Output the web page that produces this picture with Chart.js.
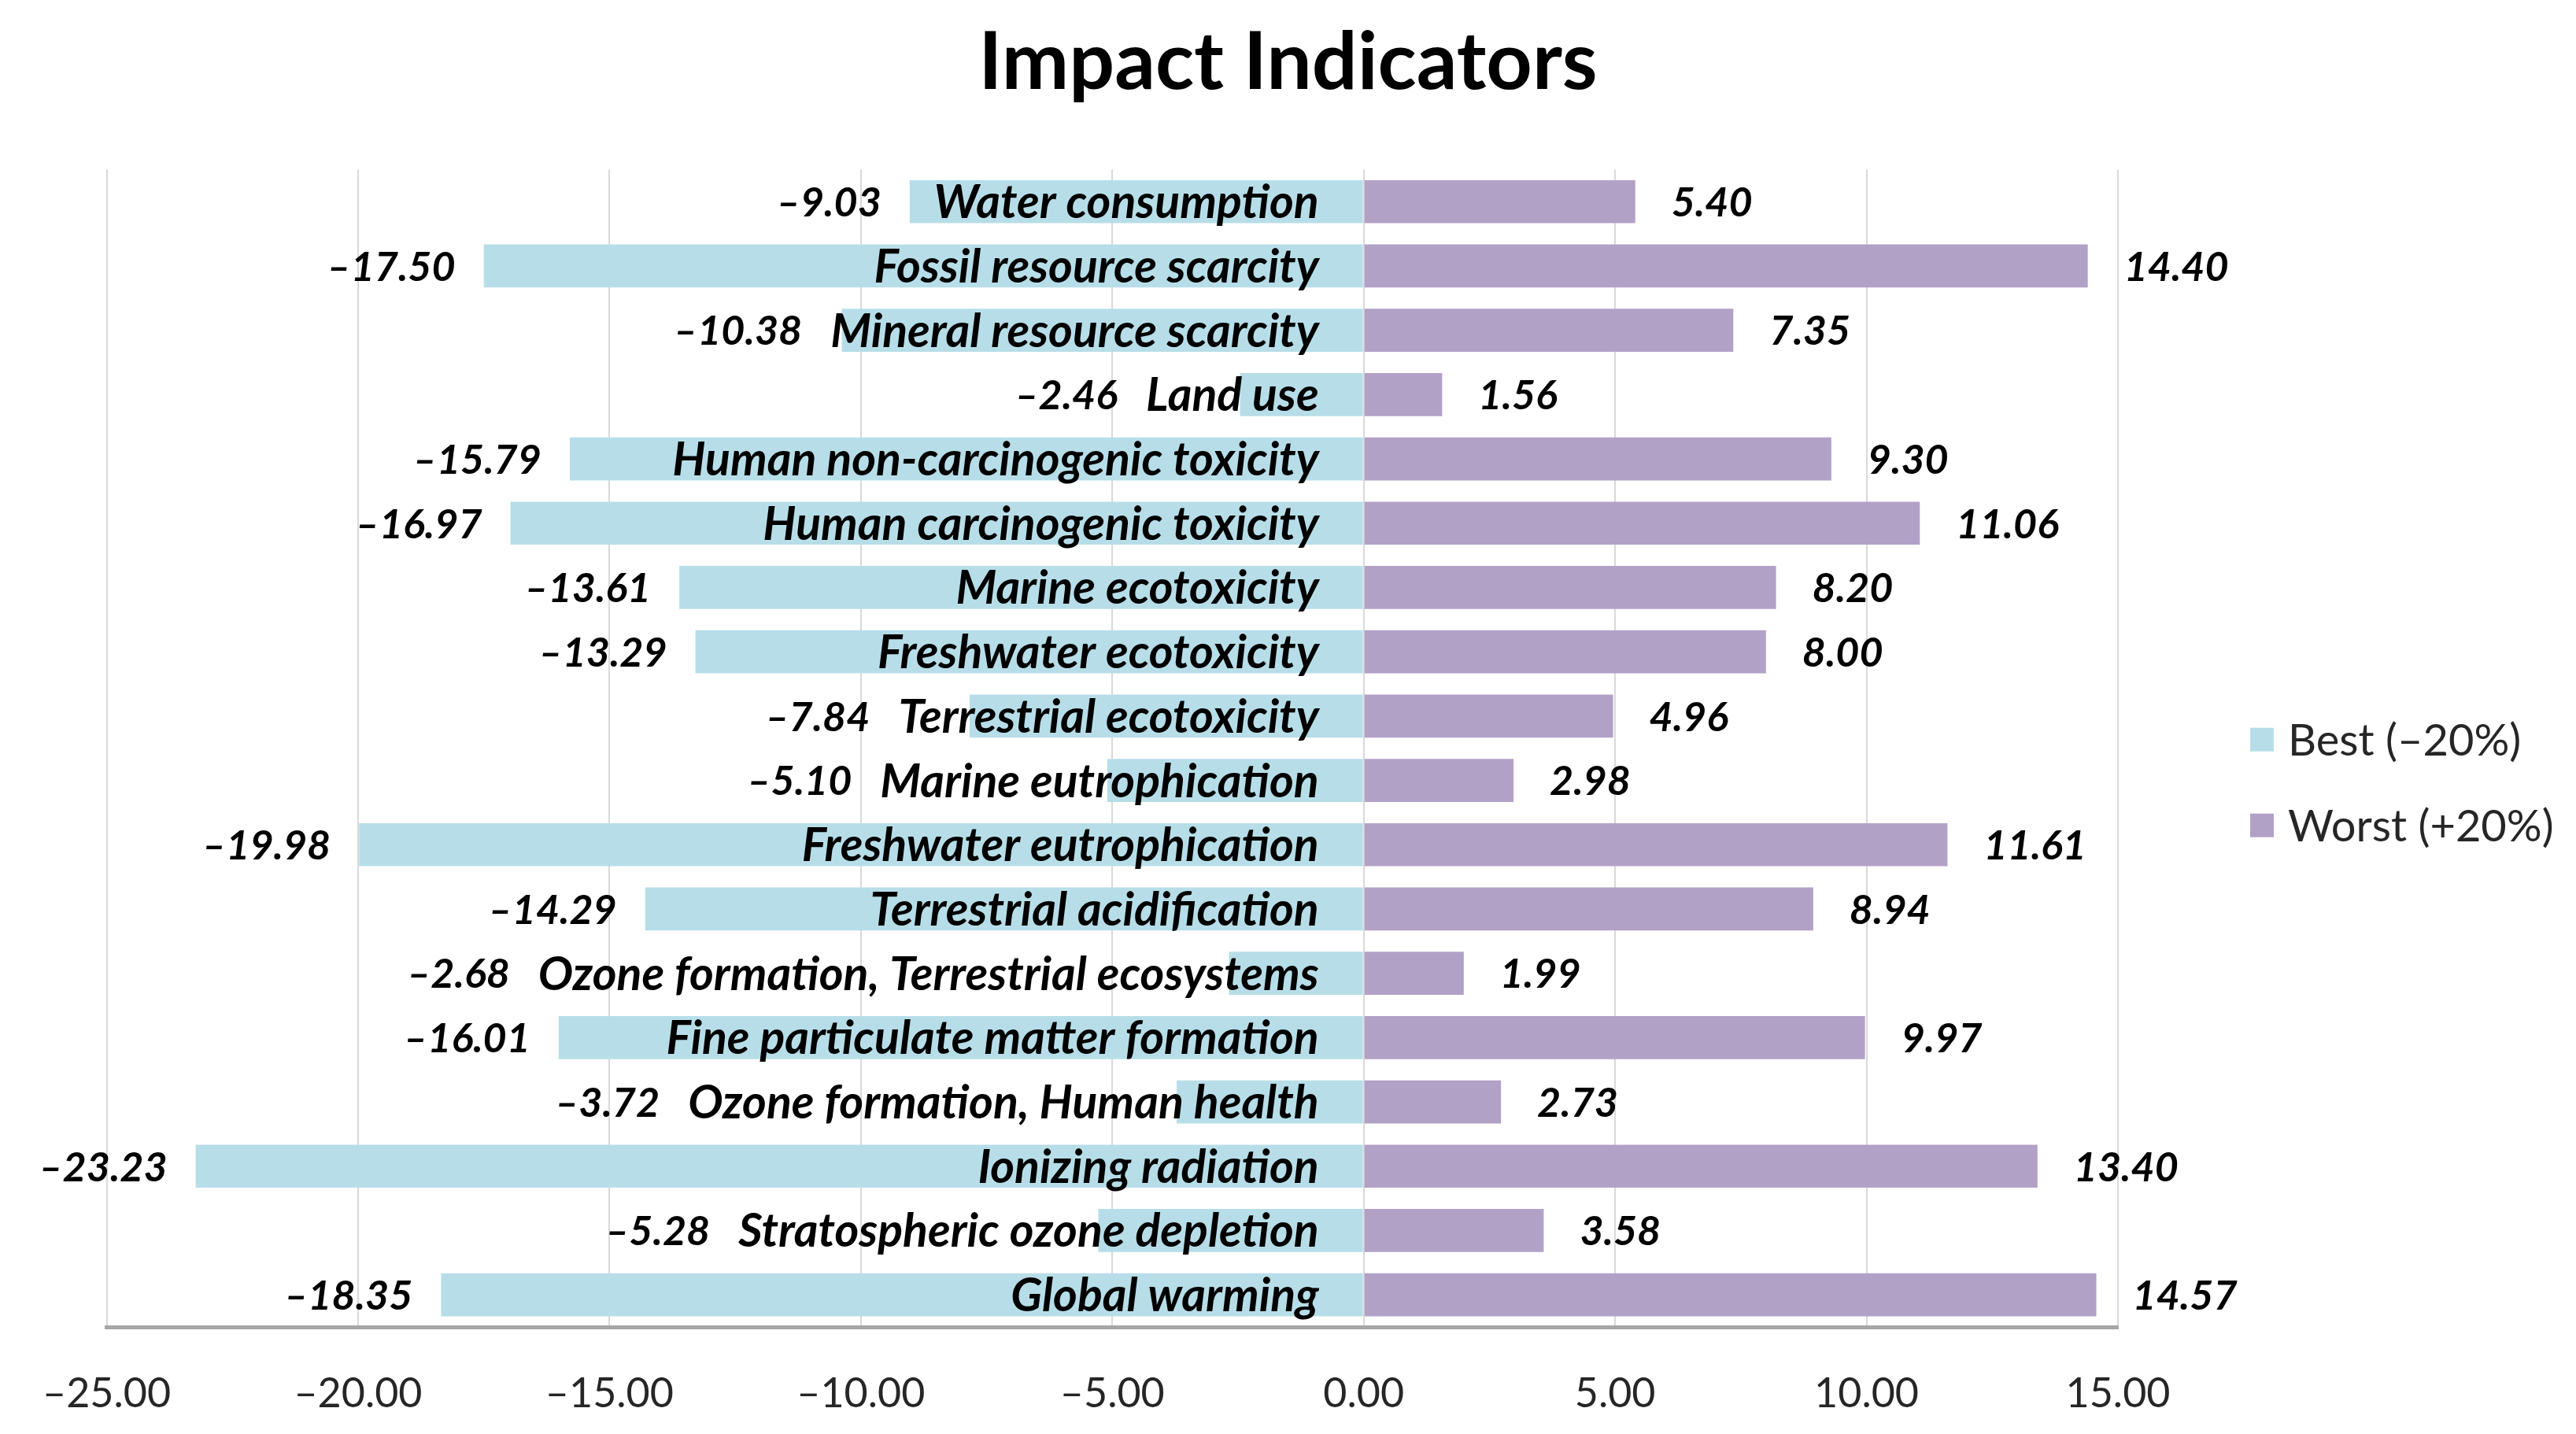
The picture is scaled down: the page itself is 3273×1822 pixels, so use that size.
<!DOCTYPE html>
<html>
<head>
<meta charset="utf-8">
<title>Impact Indicators</title>
<script src="https://cdn.jsdelivr.net/npm/chart.js@4.4.1/dist/chart.umd.min.js"></script>
<style>
  html, body { margin: 0; padding: 0; background: #fff; }
  #wrap { width: 3273px; height: 1822px; }
</style>
</head>
<body>
<div id="wrap"><canvas id="impactChart"></canvas></div>
<script>
// categories, top to bottom as in the figure
const categories = [
  'Water consumption',
  'Fossil resource scarcity',
  'Mineral resource scarcity',
  'Land use',
  'Human non-carcinogenic toxicity',
  'Human carcinogenic toxicity',
  'Marine ecotoxicity',
  'Freshwater ecotoxicity',
  'Terrestrial ecotoxicity',
  'Marine eutrophication',
  'Freshwater eutrophication',
  'Terrestrial acidification',
  'Ozone formation, Terrestrial ecosystems',
  'Fine particulate matter formation',
  'Ozone formation, Human health',
  'Ionizing radiation',
  'Stratospheric ozone depletion',
  'Global warming'
];
const bestValues  = [-9.03, -17.50, -10.38, -2.46, -15.79, -16.97, -13.61, -13.29, -7.84,
                     -5.10, -19.98, -14.29, -2.68, -16.01, -3.72, -23.23, -5.28, -18.35];
const worstValues = [5.40, 14.40, 7.35, 1.56, 9.30, 11.06, 8.20, 8.00, 4.96,
                     2.98, 11.61, 8.94, 1.99, 9.97, 2.73, 13.40, 3.58, 14.57];
const xTickValues = [-25, -20, -15, -10, -5, 0, 5, 10, 15];
const seriesNames = ['Best (–20%)', 'Worst (+20%)'];

const BLUE = '#b7dee8';
const PURPLE = '#b2a1c7';
const FONT = 'Lato, "Open Sans", sans-serif';

const fmt = v => v.toFixed(2).replace('-', '–');

// category names sit just left of zero, value labels outside the bar ends
const labelPlugin = {
  id: 'barLabels',
  afterDatasetsDraw(chart) {
    const ctx = chart.ctx;
    const x = chart.scales.x;
    const zeroX = x.getPixelForValue(0);
    const best = chart.getDatasetMeta(0).data;
    const worst = chart.getDatasetMeta(1).data;
    ctx.save();
    ctx.fillStyle = '#000';
    ctx.textBaseline = 'middle';
    categories.forEach((name, i) => {
      const y = best[i].y + 2;
      ctx.font = 'italic bold 59px ' + FONT;
      ctx.textAlign = 'right';
      const nameRight = zeroX - 57;
      ctx.fillText(name, nameRight, y);
      const nameLeft = nameRight - ctx.measureText(name).width;

      ctx.font = 'italic bold 52px ' + FONT;
      const leftEdge = Math.min(best[i].x, nameLeft);
      ctx.fillText(fmt(bestValues[i]), leftEdge - 36, y);

      ctx.textAlign = 'left';
      ctx.fillText(fmt(worstValues[i]), worst[i].x + 46, y);
    });
    ctx.restore();
  }
};

// legend to the right of the plot
const legendPlugin = {
  id: 'sideLegend',
  afterDraw(chart) {
    const ctx = chart.ctx;
    const a = chart.chartArea;
    const boxX = a.right + 168;
    const midY = (a.top + a.bottom) / 2;
    const rowsY = [midY - 11, midY + 98];
    const colors = [BLUE, PURPLE];
    ctx.save();
    ctx.font = '56px ' + FONT;
    ctx.textBaseline = 'middle';
    ctx.textAlign = 'left';
    seriesNames.forEach((n, i) => {
      ctx.fillStyle = colors[i];
      ctx.fillRect(boxX, rowsY[i] - 15, 30, 30);
      ctx.fillStyle = '#262626';
      ctx.fillText(n, boxX + 48, rowsY[i] + 2);
    });
    ctx.restore();
  }
};

new Chart(document.getElementById('impactChart'), {
  type: 'bar',
  data: {
    labels: categories,
    datasets: [
      { label: seriesNames[0], data: bestValues, backgroundColor: BLUE,
        barPercentage: 0.67, categoryPercentage: 1 },
      { label: seriesNames[1], data: worstValues, backgroundColor: PURPLE,
        barPercentage: 0.67, categoryPercentage: 1 }
    ]
  },
  options: {
    indexAxis: 'y',
    responsive: true,
    maintainAspectRatio: false,
    devicePixelRatio: 1,
    animation: false,
    layout: { padding: 0 },
    plugins: {
      legend: { display: false },
      tooltip: { enabled: false },
      title: {
        display: true,
        text: 'Impact Indicators',
        color: '#000',
        font: { family: FONT, size: 102, weight: 'bold' },
        padding: { top: 19, bottom: 74 }
      }
    },
    scales: {
      x: {
        type: 'linear',
        min: -25,
        max: 15,
        stacked: true,
        afterBuildTicks: s => { s.ticks = xTickValues.map(v => ({ value: v })); },
        afterFit: s => { s.height = 136; },
        grid: { color: '#d9d9d9', lineWidth: 2, drawTicks: false },
        border: { display: true, color: '#a6a6a6', width: 5 },
        ticks: {
          padding: 54,
          color: '#262626',
          font: { family: FONT, size: 52 },
          callback: v => fmt(v)
        }
      },
      y: {
        type: 'category',
        stacked: true,
        position: 'left',
        grid: { display: false },
        border: { display: false },
        ticks: { display: false },
        afterFit: s => { s.width = 130; }
      },
      // empty axis that only keeps room for the legend on the right
      yRight: {
        type: 'category',
        labels: categories,
        position: 'right',
        grid: { display: false },
        border: { display: false },
        ticks: { display: false },
        afterFit: s => { s.width = 582; }
      }
    }
  },
  plugins: [labelPlugin, legendPlugin]
});
</script>
</body>
</html>
